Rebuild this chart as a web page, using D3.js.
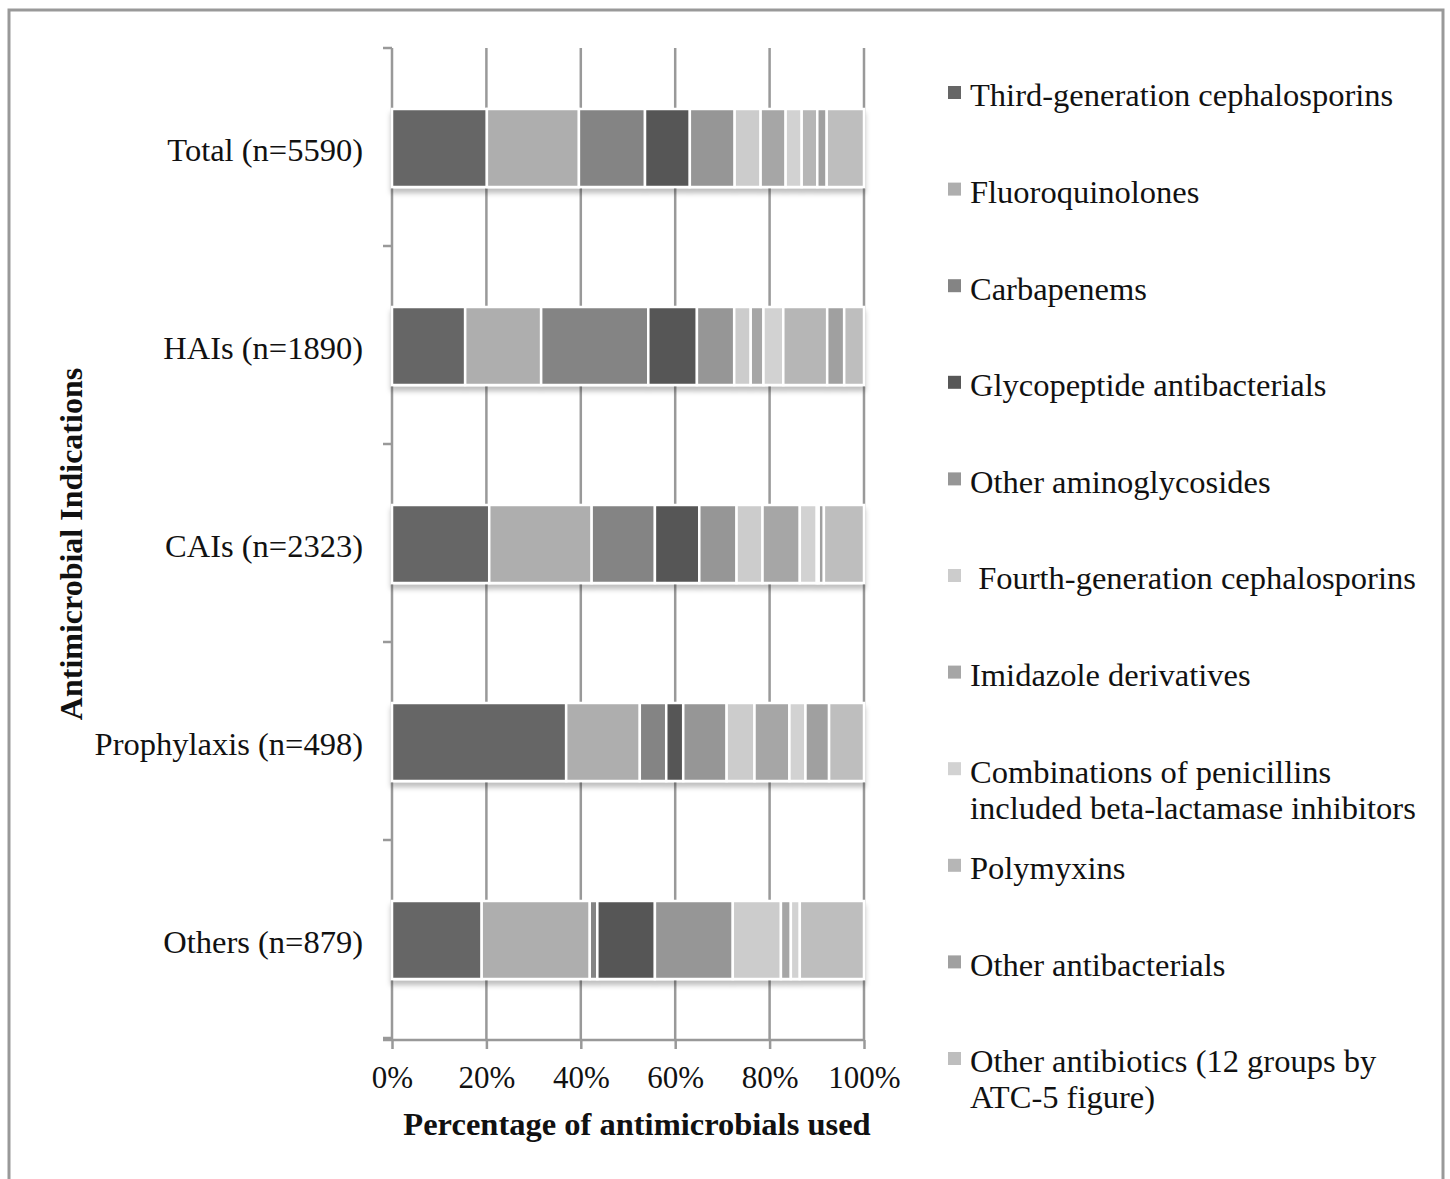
<!DOCTYPE html>
<html>
<head>
<meta charset="utf-8">
<script src="https://cdn.jsdelivr.net/npm/d3@7"></script>
<style>
  body { margin: 0; background: #fff; }
  text { font-family: "Liberation Serif", serif; fill: #111; }
</style>
</head>
<body>
<div id="chart"></div>
<script>
var categories = ["Total (n=5590)", "HAIs (n=1890)", "CAIs (n=2323)", "Prophylaxis (n=498)", "Others (n=879)"];

var seriesNames = [
  "Third-generation cephalosporins",
  "Fluoroquinolones",
  "Carbapenems",
  "Glycopeptide antibacterials",
  "Other aminoglycosides",
  " Fourth-generation cephalosporins",
  "Imidazole derivatives",
  "Combinations of penicillins\nincluded beta-lactamase inhibitors",
  "Polymyxins",
  "Other antibacterials",
  "Other antibiotics (12 groups by\nATC-5 figure)"
];

// percentages per indication, in series order
var totalVals       = [20.1, 19.5, 14.0, 9.5, 9.5, 5.5, 5.3, 3.4, 3.3, 2.0, 7.9];
var haiVals         = [15.5, 16.1, 22.7, 10.3, 7.9, 3.5, 2.7, 4.2, 9.3, 3.6, 4.2];
var caiVals         = [20.6, 21.7, 13.4, 9.4, 7.9, 5.5, 7.9, 3.6, 0.4, 1.1, 8.5];
var prophylaxisVals = [36.9, 15.6, 5.6, 3.6, 9.2, 5.9, 7.4, 3.4, 0, 5.0, 7.4];
var othersVals      = [19.0, 22.9, 1.6, 12.2, 16.5, 10.2, 2.1, 1.9, 0, 0, 13.6];

var xTicks = [0, 20, 40, 60, 80, 100];

var colors = ["#666666", "#aeaeae", "#848484", "#575757", "#969696", "#cccccc",
              "#a6a6a6", "#d2d2d2", "#b6b6b6", "#a0a0a0", "#bebebe"];

var svgWidth = 1450;
var svgHeight = 1179;

var svg = d3.select("#chart")
  .append("svg")
  .attr("width", svgWidth)
  .attr("height", svgHeight);

// outer frame
svg.append("path")
  .attr("d", "M9,1185 V10 H1443 V1185")
  .attr("fill", "none")
  .attr("stroke", "#999")
  .attr("stroke-width", 3);

var defs = svg.append("defs");
var shadow = defs.append("filter").attr("id", "shadow")
  .attr("x", "-5%").attr("y", "-20%").attr("width", "110%").attr("height", "150%");
shadow.append("feDropShadow")
  .attr("dx", 0).attr("dy", 5)
  .attr("stdDeviation", 2.5)
  .attr("flood-color", "#000")
  .attr("flood-opacity", 0.25);

// build rows for the stack
var valueRows = [totalVals, haiVals, caiVals, prophylaxisVals, othersVals];
var data = categories.map(function(c, i) {
  var row = { cat: c };
  seriesNames.forEach(function(s, j) { row[s] = valueRows[i][j]; });
  return row;
});

var stacked = d3.stack().keys(seriesNames)(data);

var plotTop = 48, plotBottom = 1040;

var x = d3.scaleLinear().domain([0, 100]).range([392, 864]);
var y = d3.scaleBand().domain(categories).range([plotTop, 1038]).paddingInner(0.606).paddingOuter(0.303);

// gridlines
svg.append("g")
  .selectAll("line")
  .data(xTicks.slice(1))
  .enter()
  .append("line")
  .attr("x1", d => x(d)).attr("x2", d => x(d))
  .attr("y1", plotTop).attr("y2", plotBottom)
  .attr("stroke", "#999")
  .attr("stroke-width", 2.5);

// y axis line + ticks at band edges
svg.append("line")
  .attr("x1", x(0)).attr("x2", x(0))
  .attr("y1", plotTop).attr("y2", plotBottom)
  .attr("stroke", "#999").attr("stroke-width", 2.5);

var bandEdges = categories.map(c => y(c) - y.step() * y.paddingInner() / 2);
bandEdges.push(1038);
svg.append("g")
  .selectAll("line")
  .data(bandEdges)
  .enter()
  .append("line")
  .attr("x1", x(0) - 9).attr("x2", x(0))
  .attr("y1", d => d).attr("y2", d => d)
  .attr("stroke", "#999").attr("stroke-width", 2.5);

// x axis
var xAxis = svg.append("g")
  .attr("transform", `translate(0, ${plotBottom})`)
  .call(d3.axisBottom(x).tickValues(xTicks).tickSize(9).tickFormat(d => d + "%"));
xAxis.select(".domain").attr("stroke", "#999").attr("stroke-width", 2.5)
  .attr("d", `M${x(0) - 9},0H${x(100)}`);
xAxis.selectAll(".tick line").attr("stroke", "#999").attr("stroke-width", 2.5);
xAxis.selectAll(".tick text")
  .attr("font-family", "Liberation Serif, serif")
  .attr("font-size", 31)
  .attr("fill", "#111")
  .attr("y", 26);

// bars
var bars = svg.append("g").attr("filter", "url(#shadow)");
bars.selectAll("g")
  .data(stacked)
  .enter()
  .append("g")
  .attr("fill", (d, i) => colors[i])
  .selectAll("rect")
  .data(d => d)
  .enter()
  .append("rect")
  .attr("x", d => x(d[0]))
  .attr("y", d => y(d.data.cat) + 1)
  .attr("width", d => Math.max(0, x(d[1]) - x(d[0])))
  .attr("height", y.bandwidth())
  .attr("stroke", "#fff")
  .attr("stroke-width", 2.5);

// category labels
svg.append("g")
  .selectAll("text")
  .data(categories)
  .enter()
  .append("text")
  .attr("x", 363)
  .attr("y", d => y(d) + y.bandwidth() / 2 + 3)
  .attr("dy", "0.35em")
  .attr("text-anchor", "end")
  .attr("font-size", 32.5)
  .text(d => d);

// axis titles
svg.append("text")
  .attr("x", 637)
  .attr("y", 1135)
  .attr("text-anchor", "middle")
  .attr("font-size", 32.5)
  .attr("font-weight", "bold")
  .text("Percentage of antimicrobials used");

svg.append("text")
  .attr("transform", "translate(82, 544) rotate(-90)")
  .attr("text-anchor", "middle")
  .attr("font-size", 32)
  .attr("font-weight", "bold")
  .text("Antimicrobial Indications");

// legend
var legend = svg.append("g")
  .selectAll("g")
  .data(seriesNames)
  .enter()
  .append("g")
  .attr("transform", (d, i) => `translate(948, ${95 + i * 96.6})`);

legend.append("rect")
  .attr("x", 0).attr("y", -9)
  .attr("width", 13).attr("height", 13)
  .attr("fill", (d, i) => colors[i]);

legend.append("text")
  .attr("x", 22)
  .attr("font-size", 32.5)
  .attr("xml:space", "preserve")
  .attr("style", "white-space: pre")
  .selectAll("tspan")
  .data(d => d.split("\n"))
  .enter()
  .append("tspan")
  .attr("x", 22)
  .attr("dy", (d, i) => i === 0 ? "0.35em" : "1.11em")
  .text(d => d);
</script>
</body>
</html>
